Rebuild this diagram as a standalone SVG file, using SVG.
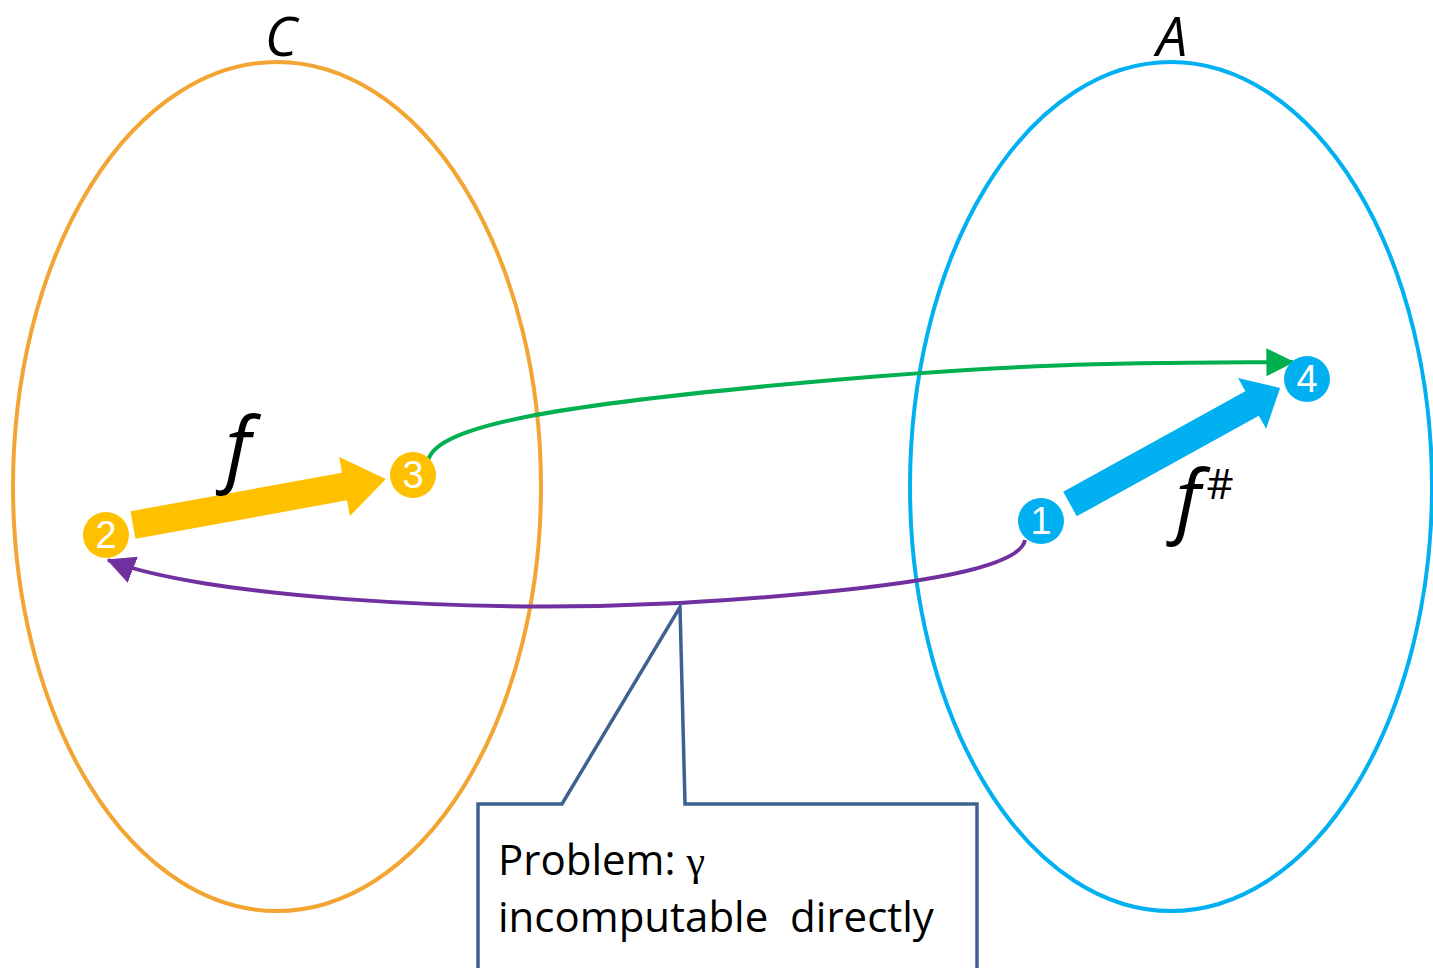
<svg xmlns="http://www.w3.org/2000/svg" width="1433" height="968" viewBox="0 0 1433 968">
<defs>
<style>
.set{fill:none;stroke-width:4}
.lbl{font-family:"Open Sans","Noto Sans",sans-serif;font-style:italic;fill:#000}
.num{font-family:"Liberation Sans",Arial,sans-serif;font-size:38px;fill:#fff;text-anchor:middle}
.conn{fill:none;stroke-width:4}
.txt{font-family:"Open Sans","Noto Sans",sans-serif;font-size:42px;fill:#000}
</style>
<marker id="mg" viewBox="0 0 10 10" refX="9.5" refY="5" markerWidth="7" markerHeight="7" markerUnits="strokeWidth" orient="auto"><path d="M0,0 L10,5 L0,10 Z" fill="#00B050"/></marker>
<marker id="mp" viewBox="0 0 10 10" refX="9.5" refY="5" markerWidth="7" markerHeight="7" markerUnits="strokeWidth" orient="auto"><path d="M0,0 L10,5 L0,10 Z" fill="#7030A0"/></marker>
</defs>
<rect width="1433" height="968" fill="#fff"/>
<g id="setC">
<ellipse class="set" cx="277" cy="486.5" rx="264" ry="424.5" stroke="#F2A532"/>
<text class="lbl" x="281" y="56" font-size="55" text-anchor="middle">C</text>
</g>
<g id="setA">
<ellipse class="set" cx="1171" cy="486.5" rx="261" ry="424.5" stroke="#00B0F0"/>
<text class="lbl" x="1172" y="56" font-size="55" text-anchor="middle">A</text>
</g>
<g id="connectors">
<path class="conn" stroke="#00B050" d="M428,461 C435,425 560,405 800,383 S1150,363 1293,362" marker-end="url(#mg)"/>
<path class="conn" stroke="#7030A0" d="M1025,540 C1020,570 900,590 680,603 C460,614 200,596 108,560" marker-end="url(#mp)"/>
<polygon fill="#FFC000" transform="translate(133,525) rotate(-10.3)" points="0,-14 215,-14 215,-30 257,0 215,30 215,14 0,14"/>
<polygon fill="#00B0F0" transform="translate(1070,504) rotate(-28.9)" points="0,-14 208,-14 208,-29 240,0 208,29 208,14 0,14"/>
</g>
<g id="label-f">
<text class="lbl" x="238" y="476" font-size="82" text-anchor="middle">f</text>
</g>
<g id="label-fsharp">
<text class="lbl" x="1188" y="528" font-size="80" text-anchor="middle">f</text>
<text x="1220" y="499" font-family="Open Sans,Noto Sans,sans-serif" font-size="42" text-anchor="middle">#</text>
</g>
<g id="n2"><circle cx="106" cy="535" r="23" fill="#FFC000"/><text class="num" x="106" y="548">2</text></g>
<g id="n3"><circle cx="413" cy="475" r="23" fill="#FFC000"/><text class="num" x="413" y="488">3</text></g>
<g id="n1"><circle cx="1041" cy="521" r="23" fill="#00B0F0"/><text class="num" x="1041" y="534">1</text></g>
<g id="n4"><circle cx="1307" cy="379" r="23" fill="#00B0F0"/><text class="num" x="1307" y="392">4</text></g>
<g id="callout">
<path d="M478,975 L478,804 L562,804 L680,607 L685,804 L977,804 L977,975" fill="#fff" stroke="#3E6190" stroke-width="3.5"/>
<text class="txt" x="498" y="875" xml:space="preserve">Problem: <tspan font-family="Liberation Serif,serif">γ</tspan></text>
<text class="txt" x="498" y="932" xml:space="preserve">incomputable  directly</text>
</g>
</svg>
